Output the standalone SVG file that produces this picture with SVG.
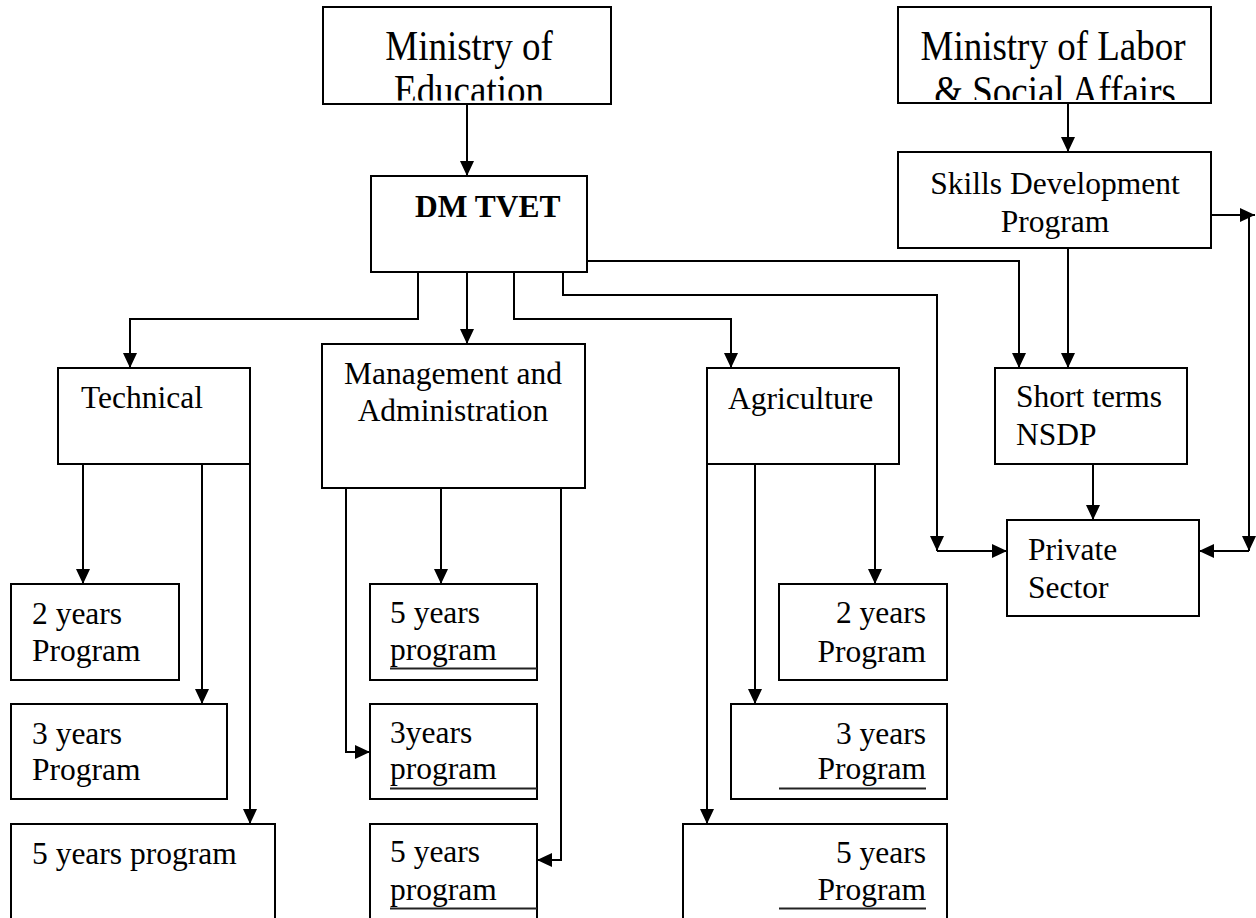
<svg xmlns="http://www.w3.org/2000/svg" width="1256" height="918" viewBox="0 0 1256 918">
<style>
.box{fill:#fff;stroke:#000;stroke-width:2}
.t{font-family:"Liberation Serif","Times New Roman",serif;font-size:31.5px;fill:#000}
.big{font-size:37px}
.b{font-weight:bold}
.mid{text-anchor:middle}
.end{text-anchor:end}
.ul{stroke:#222;stroke-width:2}
.c{fill:none;stroke:#000;stroke-width:2}
.a{marker-end:url(#ah)}
</style>
<defs>
<marker id="ah" viewBox="0 0 15 14" refX="15" refY="7" markerWidth="15" markerHeight="14" markerUnits="userSpaceOnUse" orient="auto">
<path d="M0,0 L15,7 L0,14 z" fill="#000"/>
</marker>
<clipPath id="clipEd"><rect x="323" y="7" width="288" height="93.5"/></clipPath>
<clipPath id="clipLab"><rect x="898" y="7" width="313" height="93"/></clipPath>
</defs>
<rect width="1256" height="918" fill="#fff"/>

<g id="connectors">
<path class="c a" d="M467,104 V176"/>
<path class="c a" d="M1068,103 V152"/>
<path class="c a" d="M1068,248 V368"/>
<path class="c a" d="M587,261 H1019 V368"/>
<path class="c a" d="M563,272 V295 H937 V551"/>
<path class="c a" d="M937,551 H1007"/>
<path class="c a" d="M1093,464 V520"/>
<path class="c a" d="M1211,215 H1255"/>
<path class="c a" d="M1249,215 V551"/>
<path class="c a" d="M1249,551 H1199"/>
<path class="c a" d="M418,272 V319 H130 V368"/>
<path class="c a" d="M467,272 V344"/>
<path class="c a" d="M514,272 V319 H731 V368"/>
<path class="c a" d="M83,464 V584"/>
<path class="c a" d="M202,464 V704"/>
<path class="c a" d="M250,464 V824"/>
<path class="c a" d="M441,488 V584"/>
<path class="c a" d="M346,488 V752 H370"/>
<path class="c a" d="M561,488 V860 H537"/>
<path class="c a" d="M875,464 V584"/>
<path class="c a" d="M755,464 V704"/>
<path class="c a" d="M707,464 V824"/>
</g>

<g id="ministry-education">
<rect class="box" x="323" y="7" width="288" height="97"/>
<g clip-path="url(#clipEd)">
<text class="t big mid" transform="translate(469,60) scale(1,1.16)">Ministry of</text>
<text class="t big mid" transform="translate(469,104) scale(1,1.16)">Education</text>
</g>
</g>

<g id="ministry-labor">
<rect class="box" x="898" y="7" width="313" height="96"/>
<g clip-path="url(#clipLab)">
<text class="t big mid" transform="translate(1053,60) scale(1,1.16)">Ministry of Labor</text>
<text class="t big mid" transform="translate(1055,105) scale(1,1.16)">&amp; Social Affairs</text>
</g>
</g>

<g id="skills-development">
<rect class="box" x="898" y="152" width="313" height="96"/>
<text class="t mid" x="1055" y="193.5">Skills Development</text>
<text class="t mid" x="1055" y="231.5">Program</text>
</g>

<g id="dm-tvet">
<rect class="box" x="371" y="176" width="216" height="96"/>
<text class="t b" x="415" y="217">DM TVET</text>
</g>

<g id="short-terms">
<rect class="box" x="995" y="368" width="192" height="96"/>
<text class="t" x="1016" y="407">Short terms</text>
<text class="t" x="1016" y="445">NSDP</text>
</g>

<g id="private-sector">
<rect class="box" x="1007" y="520" width="192" height="96"/>
<text class="t" x="1028" y="560">Private</text>
<text class="t" x="1028" y="598">Sector</text>
</g>

<g id="technical">
<rect class="box" x="58" y="368" width="192" height="96"/>
<text class="t" x="81" y="408">Technical</text>
</g>

<g id="management">
<rect class="box" x="322" y="344" width="263" height="144"/>
<text class="t mid" x="453" y="384">Management and</text>
<text class="t mid" x="453" y="421">Administration</text>
</g>

<g id="agriculture">
<rect class="box" x="707" y="368" width="192" height="96"/>
<text class="t" x="728" y="409">Agriculture</text>
</g>

<g id="tech-2y">
<rect class="box" x="11" y="584" width="168" height="96"/>
<text class="t" x="32" y="624">2 years</text>
<text class="t" x="32" y="661">Program</text>
</g>
<g id="tech-3y">
<rect class="box" x="11" y="704" width="216" height="95"/>
<text class="t" x="32" y="744">3 years</text>
<text class="t" x="32" y="780">Program</text>
</g>
<g id="tech-5y">
<rect class="box" x="11" y="824" width="264" height="120"/>
<text class="t" x="32" y="864">5 years program</text>
</g>

<g id="mgmt-5y">
<rect class="box" x="370" y="584" width="167" height="96"/>
<text class="t" x="390" y="623">5 years</text>
<text class="t" x="390" y="660">program</text>
<line class="ul" x1="390" y1="668.5" x2="537" y2="668.5"/>
</g>
<g id="mgmt-3y">
<rect class="box" x="370" y="704" width="167" height="95"/>
<text class="t" x="390" y="743">3years</text>
<text class="t" x="390" y="779">program</text>
<line class="ul" x1="390" y1="788.5" x2="537" y2="788.5"/>
</g>
<g id="mgmt-5y-b">
<rect class="box" x="370" y="824" width="167" height="120"/>
<text class="t" x="390" y="862">5 years</text>
<text class="t" x="390" y="900">program</text>
<line class="ul" x1="390" y1="908.5" x2="537" y2="908.5"/>
</g>

<g id="agri-2y">
<rect class="box" x="779" y="584" width="168" height="96"/>
<text class="t end" x="926" y="623">2 years</text>
<text class="t end" x="926" y="662">Program</text>
</g>
<g id="agri-3y">
<rect class="box" x="731" y="704" width="216" height="95"/>
<text class="t end" x="926" y="744">3 years</text>
<text class="t end" x="926" y="779">Program</text>
<line class="ul" x1="779" y1="788.5" x2="926" y2="788.5"/>
</g>
<g id="agri-5y">
<rect class="box" x="683" y="824" width="264" height="120"/>
<text class="t end" x="926" y="863">5 years</text>
<text class="t end" x="926" y="900">Program</text>
<line class="ul" x1="779" y1="908.5" x2="926" y2="908.5"/>
</g>
</svg>
